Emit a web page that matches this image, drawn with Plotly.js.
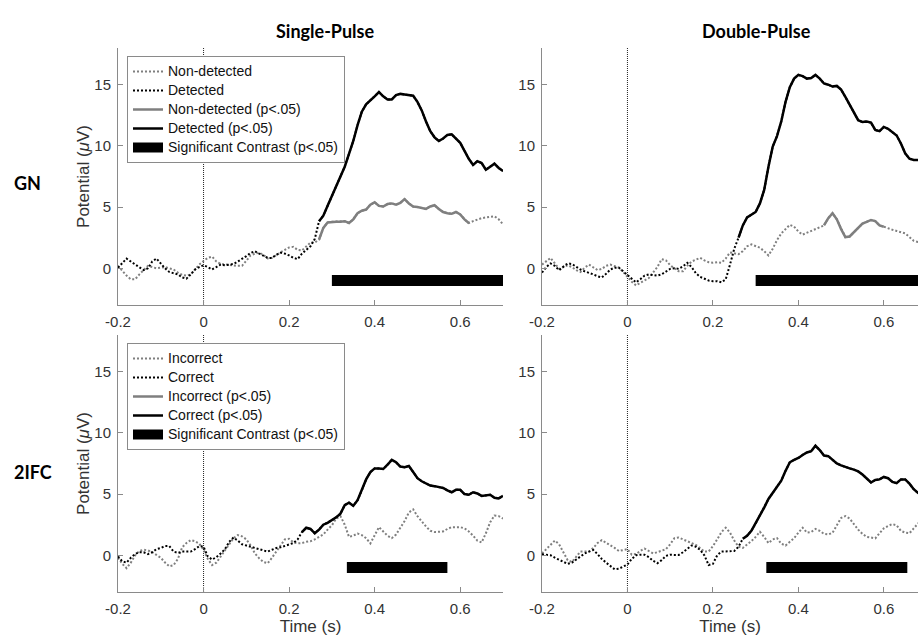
<!DOCTYPE html>
<html>
<head>
<meta charset="utf-8">
<script src="https://cdn.plot.ly/plotly-3.0.1.min.js"></script>
<style>html,body{margin:0;padding:0;background:#fff;}#chart{width:918px;height:641px;}</style>
</head>
<body>
<div id="chart"></div>
<script>
// ---- shared time grid (s) ----
const time = [-0.20,-0.19,-0.18,-0.17,-0.16,-0.15,-0.14,-0.13,-0.12,-0.11,-0.10,-0.09,-0.08,-0.07,-0.06,-0.05,-0.04,-0.03,-0.02,-0.01,
  0.00,0.01,0.02,0.03,0.04,0.05,0.06,0.07,0.08,0.09,0.10,0.11,0.12,0.13,0.14,0.15,0.16,0.17,0.18,0.19,
  0.20,0.21,0.22,0.23,0.24,0.25,0.26,0.27,0.28,0.29,0.30,0.31,0.32,0.33,0.34,0.35,0.36,0.37,0.38,0.39,
  0.40,0.41,0.42,0.43,0.44,0.45,0.46,0.47,0.48,0.49,0.50,0.51,0.52,0.53,0.54,0.55,0.56,0.57,0.58,0.59,
  0.60,0.61,0.62,0.63,0.64,0.65,0.66,0.67,0.68,0.69,0.70];

// ---- GN, Single-Pulse ----
const gnSingleNondet = [0.2,-0.2,-0.6,-0.9,-0.9,-0.5,-0.15,0.2,0.1,0.0,0.05,0.1,0.0,-0.1,-0.35,-0.55,-0.6,-0.5,-0.1,0.3,
  0.6,0.85,0.95,0.55,0.35,0.3,0.3,0.25,0.2,0.2,0.6,1.05,1.2,1.27,1.1,0.8,0.85,1.1,1.3,1.5,
  1.7,1.75,1.5,1.45,1.8,2.1,2.1,2.35,3.3,3.75,3.8,3.8,3.8,3.85,3.7,4.0,4.5,4.7,4.8,5.2,
  5.4,5.1,5.05,5.25,5.3,5.2,5.35,5.65,5.3,5.05,5.0,4.9,4.85,5.05,5.15,4.85,4.6,4.5,4.45,4.6,
  4.4,4.0,3.7,3.85,4.0,4.1,4.15,4.2,4.25,4.0,3.6];
const gnSingleDet = [0.05,0.45,0.79,0.55,0.3,0.05,-0.15,0.0,0.55,0.8,0.4,0.0,-0.3,-0.4,-0.5,-0.75,-0.85,-0.5,-0.1,0.1,
  0.25,0.1,-0.1,0.1,0.3,0.25,0.3,0.35,0.55,0.75,1.0,1.25,1.4,1.2,1.0,0.85,0.85,1.1,1.27,1.2,
  1.05,0.85,0.75,1.2,1.5,1.8,2.4,3.85,4.3,5.1,5.9,6.65,7.4,8.3,9.35,10.4,11.7,12.8,13.4,13.7,
  14.05,14.4,14.05,13.8,13.8,14.15,14.25,14.2,14.15,14.1,13.6,12.9,12.0,11.2,10.7,10.4,10.6,10.9,10.95,10.6,
  10.25,9.6,8.95,8.45,8.75,8.6,8.05,8.3,8.55,8.2,7.95];
const gnSingleNondetSig = [0.27, 0.62];
const gnSingleDetSig = [0.27, 0.70];
const gnSingleContrast = [0.30, 0.70];

// ---- GN, Double-Pulse ----
const gnDoubleNondet = [0.3,0.6,0.85,0.4,-0.05,0.1,0.25,0.1,-0.15,-0.3,0.05,0.3,0.1,-0.15,-0.05,0.2,0.3,0.2,0.05,-0.3,
  -0.7,-1.1,-1.4,-1.2,-1.05,-0.8,-0.35,0.1,0.75,0.65,0.25,0.0,-0.25,-0.25,0.2,0.55,0.7,0.85,0.65,0.5,
  0.45,0.5,0.45,0.8,1.3,1.25,1.15,1.4,1.8,1.95,1.8,1.68,1.4,1.05,1.6,2.3,2.85,3.2,3.55,3.4,
  3.0,2.75,2.9,3.05,3.2,3.3,3.5,4.1,4.5,4.0,3.2,2.55,2.6,2.95,3.3,3.65,3.8,3.95,3.85,3.5,
  3.4,3.25,3.15,3.05,2.95,2.85,2.55,2.25,2.15,2.1,2.1];
const gnDoubleDet = [-0.35,0.1,0.4,0.2,-0.15,0.1,0.4,0.35,0.1,-0.1,-0.25,-0.35,-0.5,-0.65,-0.75,-0.45,-0.1,0.05,0.05,-0.25,
  -0.55,-0.9,-1.15,-0.9,-0.6,-0.5,-0.55,-0.6,-0.5,-0.25,-0.05,0.0,-0.05,0.15,0.45,0.1,-0.4,-0.7,-0.85,-1.0,
  -1.05,-1.05,-1.15,-0.9,0.3,1.6,2.5,3.5,4.15,4.35,4.6,5.3,6.4,8.3,9.95,10.8,12.0,13.6,14.8,15.5,
  15.8,15.7,15.5,15.55,15.8,15.5,15.1,15.0,14.85,14.9,14.6,14.0,13.4,12.8,12.1,11.95,12.0,11.9,11.3,11.2,
  11.55,11.4,11.1,10.85,10.2,9.4,8.95,8.85,8.85,8.9,8.9];
const gnDoubleNondetSig = [0.46, 0.60];
const gnDoubleDetSig = [0.26, 0.70];
const gnDoubleContrast = [0.30, 0.70];

// ---- 2IFC, Single-Pulse ----
const ifcSingleIncorrect = [-0.2,-0.7,-1.05,-0.6,0.0,0.35,0.45,0.4,0.25,0.05,-0.2,-0.6,-0.9,-0.8,-0.3,0.65,1.0,1.24,1.15,0.95,
  0.45,-0.3,-0.8,-0.6,-0.1,0.5,1.0,1.4,1.65,1.55,1.3,0.8,0.15,-0.25,-0.55,-0.65,-0.2,0.3,0.8,1.3,
  1.35,1.05,0.97,1.0,1.1,1.15,1.3,1.5,1.7,2.1,2.45,3.0,3.2,2.5,1.5,1.6,1.78,1.65,1.4,0.97,
  1.6,2.3,1.95,1.6,1.4,1.7,2.25,2.8,3.5,3.75,3.2,2.75,2.35,2.0,1.9,1.92,1.95,2.15,2.3,2.3,
  2.3,2.2,1.95,1.6,1.2,1.05,1.8,2.7,3.25,3.2,3.0];
const ifcSingleCorrect = [-0.1,-0.5,-0.6,-0.2,0.1,0.25,0.25,0.1,0.25,0.5,0.6,0.75,0.75,0.3,0.2,0.3,0.3,0.3,0.5,0.75,
  0.7,-0.1,-0.35,-0.15,0.15,0.5,1.1,1.45,1.2,0.9,0.8,0.7,0.6,0.5,0.35,0.3,0.45,0.6,0.65,0.75,
  0.85,1.0,1.3,1.9,2.25,2.15,1.8,2.1,2.5,2.65,2.86,3.1,3.4,4.1,4.3,4.05,4.5,5.3,6.2,6.8,
  7.1,7.1,7.05,7.4,7.8,7.6,7.25,7.2,7.3,6.8,6.3,6.05,5.85,5.7,5.65,5.6,5.5,5.3,5.15,5.35,
  5.35,5.0,4.95,5.15,5.05,4.85,4.9,4.95,4.7,4.65,4.85];
const ifcSingleIncorrectSig = [];
const ifcSingleCorrectSig = [0.23, 0.70];
const ifcSingleContrast = [0.335, 0.57];

// ---- 2IFC, Double-Pulse ----
const ifcDoubleIncorrect = [0.15,0.5,0.9,1.2,0.9,0.3,-0.4,-0.55,-0.1,0.3,0.3,0.3,0.6,1.0,1.24,1.05,0.85,0.6,0.35,0.45,
  0.5,0.05,0.1,0.35,0.55,0.35,0.16,0.25,0.4,0.5,0.9,1.4,1.45,1.3,1.15,1.05,0.85,0.6,0.3,0.3,
  0.75,1.3,1.9,2.25,1.85,1.2,0.7,0.6,0.85,1.15,1.5,1.92,1.5,1.0,1.3,1.4,0.95,0.8,1.1,1.4,
  1.85,2.25,1.85,1.9,2.15,2.0,1.75,1.7,1.85,2.4,3.05,3.2,3.0,2.55,2.1,1.75,1.5,1.45,1.38,1.8,
  2.2,2.4,2.55,2.45,2.0,1.85,1.8,2.2,2.6,2.6,2.6];
const ifcDoubleCorrect = [0.08,0.05,0.0,-0.2,-0.35,-0.5,-0.7,-0.6,-0.35,-0.05,0.15,0.3,0.43,0.1,-0.3,-0.6,-0.9,-1.15,-1.1,-0.95,
  -0.75,-0.3,0.0,0.05,0.05,-0.15,-0.45,-0.65,-0.4,-0.05,0.05,0.03,0.03,0.25,0.55,0.8,0.7,0.45,0.0,-0.8,
  -0.7,0.0,0.3,0.3,0.3,0.35,0.7,1.35,1.6,2.0,2.6,3.3,3.9,4.6,5.1,5.55,6.1,6.9,7.6,7.8,
  7.95,8.2,8.4,8.5,8.95,8.6,8.15,8.1,7.8,7.5,7.35,7.2,7.1,7.0,6.85,6.6,6.25,5.95,6.15,6.2,
  6.4,6.3,6.0,5.9,6.2,6.2,5.85,5.4,5.1,5.0,5.0];
const ifcDoubleIncorrectSig = [];
const ifcDoubleCorrectSig = [0.27, 0.70];
const ifcDoubleContrast = [0.325, 0.655];

// ---- labels / ticks ----
const xTickVals = [-0.2, 0, 0.2, 0.4, 0.6];
const xTickText = ['-0.2', '0', '0.2', '0.4', '0.6'];
const yTickVals = [0, 5, 10, 15];
const yTickText = ['0', '5', '10', '15'];
const contrastLevel = -1.0;
const eventTime = 0;
const gnNames = ['Non-detected', 'Detected'];
const ifcNames = ['Incorrect', 'Correct'];
const contrastName = 'Significant Contrast (p<.05)';
const colTitles = ['Single-Pulse', 'Double-Pulse'];
const rowTitles = ['GN', '2IFC'];

// ---- styles ----
const GRAY = '#7f7f7f', BLACK = '#000000';
const FONT = 'Arial, Liberation Sans, sans-serif';

function lg(s) { return '<span style="font-size:14px">' + s.replace(/</g, '&lt;') + '</span>'; }

function maskWin(vals, win) {
  return vals.map((v, i) => (win.length === 2 && time[i] >= win[0] - 1e-9 && time[i] <= win[1] + 1e-9) ? v : null);
}

function panelTraces(ax, names, grayVals, blackVals, graySig, blackSig, contrast, legendId, show) {
  const xa = 'x' + (ax === 1 ? '' : ax), ya = 'y' + (ax === 1 ? '' : ax);
  const common = {xaxis: xa, yaxis: ya, mode: 'lines', legend: legendId, showlegend: show, hoverinfo: 'skip'};
  return [
    Object.assign({x: time, y: grayVals, name: lg(names[0]), line: {color: GRAY, width: 2, dash: '2px,2px'}}, common),
    Object.assign({x: time, y: blackVals, name: lg(names[1]), line: {color: BLACK, width: 2, dash: '2px,2px'}}, common),
    Object.assign({x: time, y: maskWin(grayVals, graySig), name: lg(names[0] + ' (p<.05)'), line: {color: GRAY, width: 2.5}}, common),
    Object.assign({x: time, y: maskWin(blackVals, blackSig), name: lg(names[1] + ' (p<.05)'), line: {color: BLACK, width: 2.5}}, common),
    Object.assign({x: contrast, y: contrast.map(() => contrastLevel), name: lg(contrastName), line: {color: BLACK, width: 11}}, common)
  ];
}

const data = [].concat(
  panelTraces(1, gnNames, gnSingleNondet, gnSingleDet, gnSingleNondetSig, gnSingleDetSig, gnSingleContrast, 'legend', true),
  panelTraces(2, gnNames, gnDoubleNondet, gnDoubleDet, gnDoubleNondetSig, gnDoubleDetSig, gnDoubleContrast, 'legend', false),
  panelTraces(3, ifcNames, ifcSingleIncorrect, ifcSingleCorrect, ifcSingleIncorrectSig, ifcSingleCorrectSig, ifcSingleContrast, 'legend2', true),
  panelTraces(4, ifcNames, ifcDoubleIncorrect, ifcDoubleCorrect, ifcDoubleIncorrectSig, ifcDoubleCorrectSig, ifcDoubleContrast, 'legend2', false)
);

const W = 918, H = 641;
const leftDom = [118 / W, 503 / W], rightDom = [542 / W, 1];
const topDom = [1 - 305 / H, 1 - 48 / H], botDom = [1 - 592 / H, 1 - 335 / H];

function xAxis(dom, anchor, range, withTitle) {
  const a = {
    domain: dom, anchor: anchor, range: range, tickvals: xTickVals, ticktext: xTickText,
    showline: true, linecolor: '#8a8a8a', linewidth: 1, ticks: 'inside', ticklen: 5, tickcolor: '#8a8a8a',
    showgrid: false, zeroline: false, tickfont: {family: FONT, size: 15, color: '#333'}, ticklabelstandoff: 3
  };
  if (withTitle) a.title = {text: 'Time (s)', font: {family: FONT, size: 17, color: '#333'}, standoff: 2};
  return a;
}
function yAxis(dom, anchor, withTitle) {
  const a = {
    domain: dom, anchor: anchor, range: [-3, 18], tickvals: yTickVals, ticktext: yTickText,
    showline: true, linecolor: '#8a8a8a', linewidth: 1, ticks: 'inside', ticklen: 5, tickcolor: '#8a8a8a',
    showgrid: false, zeroline: false, tickfont: {family: FONT, size: 15, color: '#333'}, ticklabelstandoff: 3
  };
  if (withTitle) a.title = {text: 'Potential (<i>μ</i>V)', font: {family: FONT, size: 17, color: '#333'}, standoff: 0};
  return a;
}

const shapes = ['x', 'x2', 'x3', 'x4'].map((xr, i) => ({
  type: 'line', xref: xr, yref: (i === 0 ? 'y' : 'y' + (i + 1)) + ' domain',
  x0: eventTime, x1: eventTime, y0: 0, y1: 1, line: {color: '#222', width: 1, dash: '1px,1px'}, layer: 'below'
}));

const boldFont = {family: 'Lato, Noto Sans, sans-serif', size: 18, color: '#000', weight: 'bold'};
const annotations = [
  {text: '<b>' + colTitles[0] + '</b>', x: 325 / W, y: 1 - 31 / H},
  {text: '<b>' + colTitles[1] + '</b>', x: 756 / W, y: 1 - 31 / H},
  {text: '<b>' + rowTitles[0] + '</b>', x: 12 / W, y: 1 - 183 / H, xanchor: 'left'},
  {text: '<b>' + rowTitles[1] + '</b>', x: 12 / W, y: 1 - 472 / H, xanchor: 'left'}
].map(a => Object.assign({xref: 'paper', yref: 'paper', showarrow: false, xanchor: 'center', yanchor: 'middle', font: boldFont}, a));

const legendStyle = {
  xanchor: 'left', yanchor: 'top', bgcolor: '#fff', bordercolor: '#8a8a8a', borderwidth: 1,
  font: {family: FONT, size: 11, color: '#111'}, tracegroupgap: 0, itemwidth: 30, traceorder: 'normal'
};

const layout = {
  width: W, height: H, margin: {l: 0, r: 0, t: 0, b: 0},
  paper_bgcolor: '#fff', plot_bgcolor: '#fff', showlegend: true,
  xaxis: xAxis(leftDom, 'y', [-0.2, 0.7], false),
  yaxis: yAxis(topDom, 'x', true),
  xaxis2: xAxis(rightDom, 'y2', [-0.2, 0.68], false),
  yaxis2: yAxis(topDom, 'x2', false),
  xaxis3: xAxis(leftDom, 'y3', [-0.2, 0.7], true),
  yaxis3: yAxis(botDom, 'x3', true),
  xaxis4: xAxis(rightDom, 'y4', [-0.2, 0.68], true),
  yaxis4: yAxis(botDom, 'x4', false),
  legend: Object.assign({x: 127 / W, y: 1 - 56 / H}, legendStyle),
  legend2: Object.assign({x: 127 / W, y: 1 - 343 / H}, legendStyle),
  shapes: shapes,
  annotations: annotations
};

Plotly.newPlot('chart', data, layout, {staticPlot: true, displayModeBar: false});
</script>
</body>
</html>
